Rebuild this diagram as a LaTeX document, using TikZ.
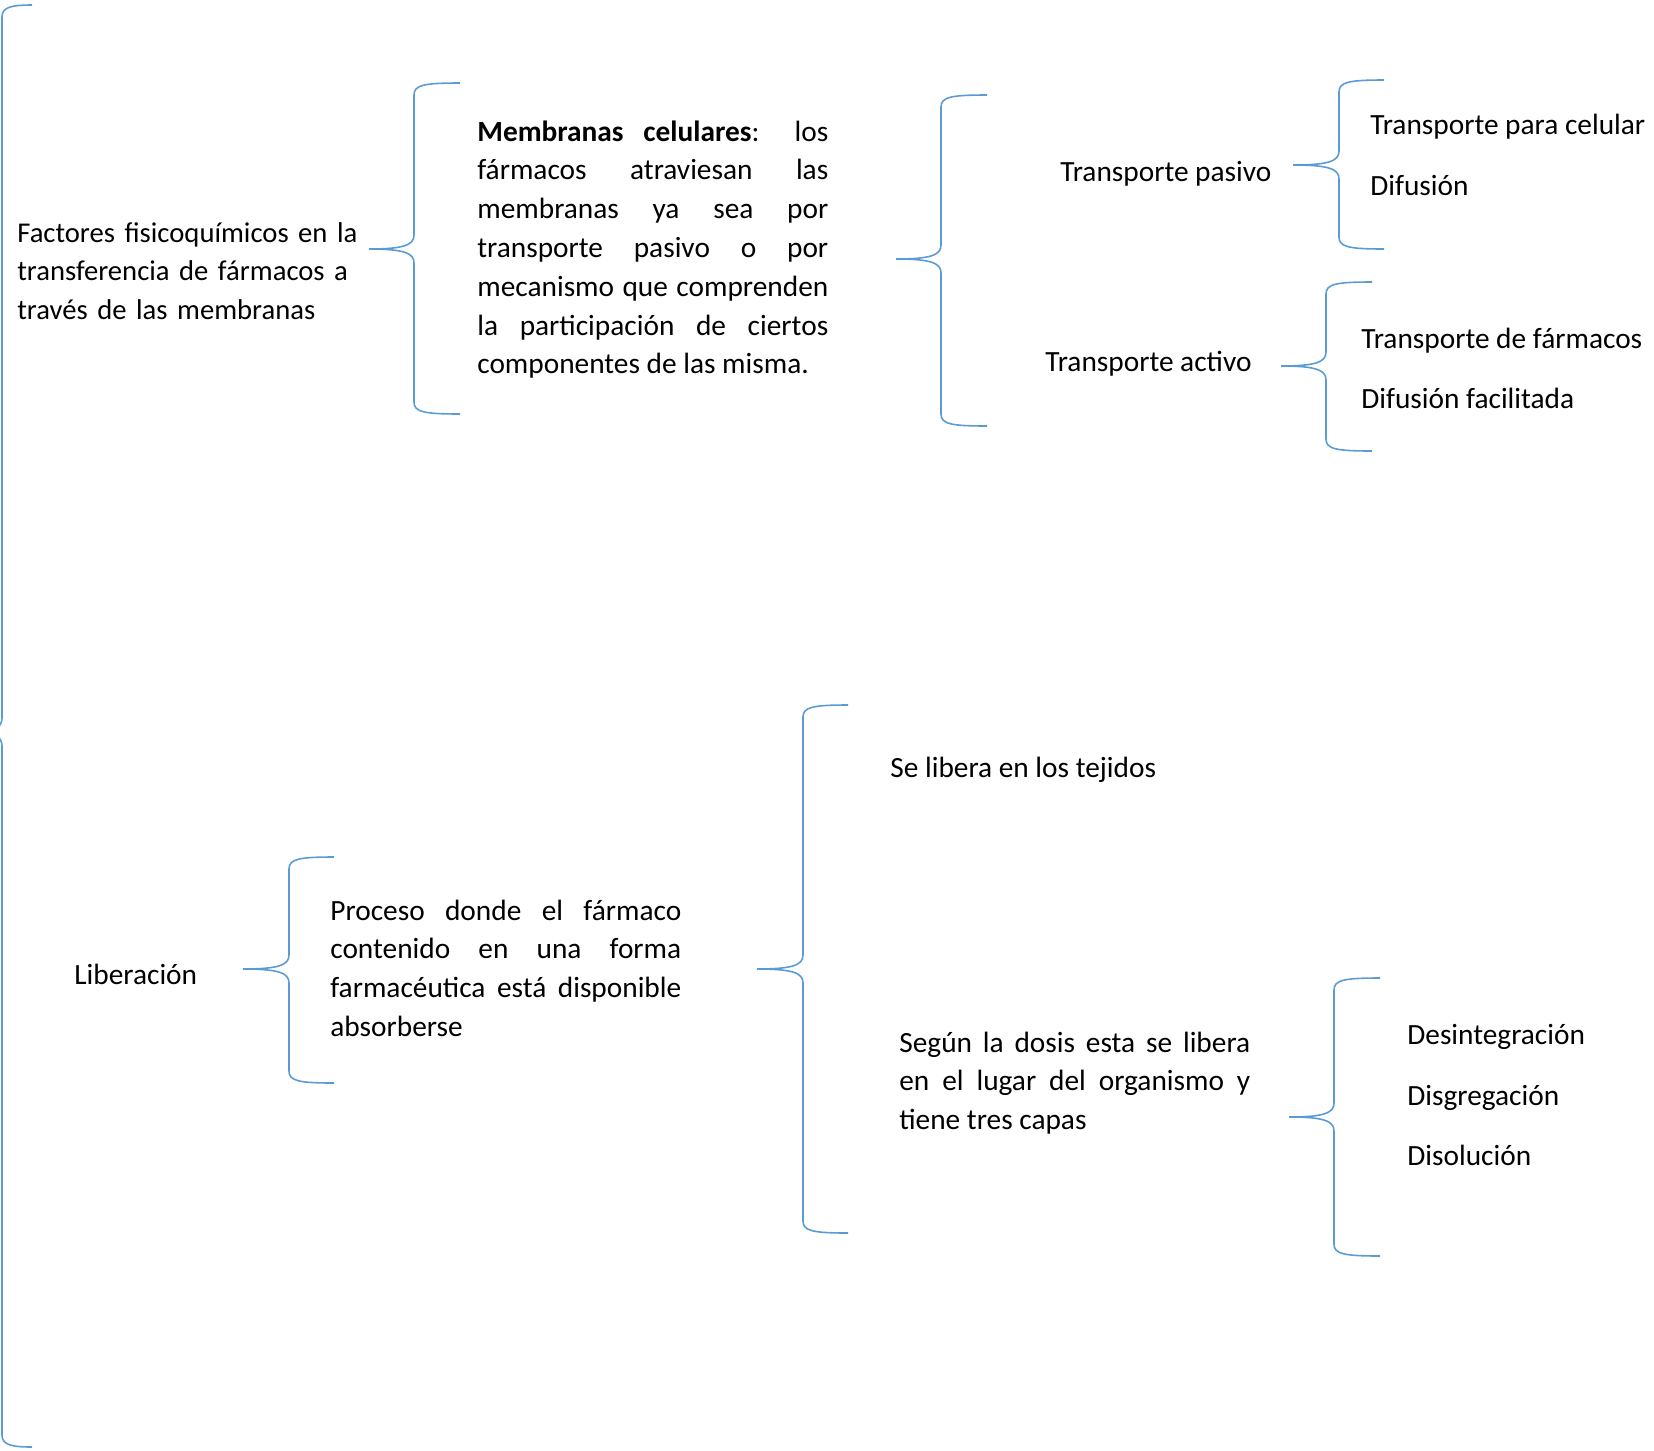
\documentclass[tikz,border=0pt]{standalone}
\usepackage{fontspec}
\setmainfont{Carlito}
\usetikzlibrary{positioning}
\definecolor{wordblue}{RGB}{91,155,213}
\hyphenpenalty=10000
\exhyphenpenalty=10000

% #1 tip x, #2 tip y, #3 spine x, #4 end x, #5 top y, #6 bottom y
\newcommand{\curlybrace}[6]{%
  \draw[curly] (#4,#5) .. controls (#3+10,#5) and (#3,#5+2) .. (#3,#5+12)
    -- (#3,#2-14) .. controls (#3,#2-4) and (#3-10,#2) .. (#1,#2)
    .. controls (#3-10,#2) and (#3,#2+4) .. (#3,#2+14)
    -- (#3,#6-12) .. controls (#3,#6-2) and (#3+10,#6) .. (#4,#6);}

\begin{document}
\begin{tikzpicture}[
    x=0.02cm, y=-0.02cm,
    every node/.style={font=\fontsize{16.7}{22.1}\selectfont, inner sep=0pt},
    item/.style={anchor=base west},
    para/.style={anchor=base west, text width=7.02cm, align=justify},
    curly/.style={draw=wordblue, line width=0.9pt},
]
\useasboundingbox (0,0) rectangle (1654,1451);

% upper branch
\node[item, text width=8cm, align=left, font=\fontsize{16.3}{22.1}\selectfont] (factores) at (17,242)
    {Factores fisicoquímicos en la\\transferencia de fármacos a\\través de las membranas};
\node[para] (membranas) at (477,141)
    {\textbf{Membranas celulares}: los\linebreak fármacos atraviesan las\linebreak membranas ya sea por\linebreak transporte pasivo o por\linebreak mecanismo que comprenden\linebreak la participación de ciertos\linebreak componentes de las misma.};
\node[item] (pasivo) at (1060,181) {Transporte pasivo};
\node[item] (activo) at (1045,371) {Transporte activo};
\node[item] (paracel) at (1370,134) {Transporte para celular};
\node[item] (difusion) at (1370,195) {Difusión};
\node[item] (tfarm) at (1361,348) {Transporte de fármacos};
\node[item] (dfacil) at (1361,408) {Difusión facilitada};

% lower branch
\node[item] (liberacion) at (74,984) {Liberación};
\node[para] (proceso) at (330,920)
    {Proceso donde el fármaco\linebreak contenido en una forma\linebreak farmacéutica está disponible\linebreak absorberse};
\node[item] (tejidos) at (890,777) {Se libera en los tejidos};
\node[para] (segun) at (899,1052)
    {Según la dosis esta se libera\linebreak en el lugar del organismo y\linebreak tiene tres capas};
\node[item] (desint) at (1407,1044) {Desintegración};
\node[item] (disgreg) at (1407,1105) {Disgregación};
\node[item] (disol) at (1407,1165) {Disolución};

% braces
\curlybrace{-12}{732}{2}{32}{5}{1447}
\curlybrace{369}{249}{414}{460}{83}{414}
\curlybrace{896}{259}{941}{987}{95}{426}
\curlybrace{1293}{165}{1339}{1384}{80}{249}
\curlybrace{1281}{366}{1326}{1372}{282}{451}
\curlybrace{243}{969}{289}{334}{857}{1083}
\curlybrace{757}{969}{803}{848}{705}{1233}
\curlybrace{1289}{1117}{1334}{1380}{978}{1256}
\end{tikzpicture}
\end{document}
